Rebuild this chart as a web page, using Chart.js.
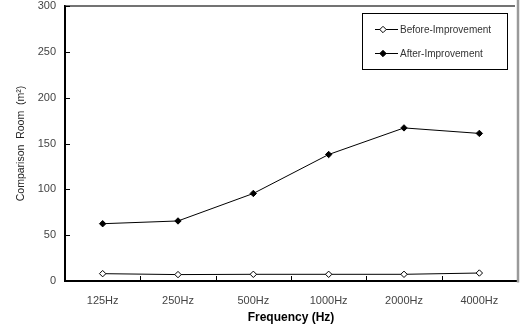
<!DOCTYPE html>
<html><head><meta charset="utf-8">
<script src="https://cdn.jsdelivr.net/npm/chart.js@4/dist/chart.umd.min.js"></script>
<style>html,body{margin:0;padding:0;background:#fff}#wrap{width:524px;height:325px}</style>
</head><body><div id="wrap"><canvas id="c" width="524" height="325"></canvas></div>
<script>
const categories = ['125Hz','250Hz','500Hz','1000Hz','2000Hz','4000Hz'];
const beforeImprovement = [8, 7, 7.3, 7.3, 7.3, 8.7];
const afterImprovement = [62.5, 65.5, 95.5, 138, 167, 161];
const yTicks = [0, 50, 100, 150, 200, 250, 300];
const seriesNames = ['Before-Improvement', 'After-Improvement'];
const xTitle = 'Frequency (Hz)';
const yTitle = 'Comparison  Room  (m²)';

const framePlugin = {
  id: 'frame',
  afterDraw(chart) {
    const ctx = chart.ctx, a = chart.chartArea;
    const xs = chart.scales.x, ys = chart.scales.y;
    ctx.save();
    ctx.strokeStyle = '#444'; ctx.lineWidth = 1.5;
    ctx.beginPath(); ctx.moveTo(a.left, a.top); ctx.lineTo(a.right - 2, a.top); ctx.stroke();
    ctx.strokeStyle = '#9a9a9a'; ctx.lineWidth = 2.5;
    ctx.beginPath(); ctx.moveTo(a.right + 1, 0); ctx.lineTo(a.right + 1, a.bottom + 1.5); ctx.stroke();
    ctx.strokeStyle = '#000'; ctx.lineWidth = 1;
    ys.ticks.forEach((t, i) => {
      if (i === 0) return;
      const y = Math.round(ys.getPixelForTick(i)) + 0.5;
      ctx.beginPath(); ctx.moveTo(a.left, y); ctx.lineTo(a.left + 5, y); ctx.stroke();
    });
    for (let i = 1; i < xs.ticks.length; i++) {
      const x = Math.round((xs.getPixelForTick(i - 1) + xs.getPixelForTick(i)) / 2) + 0.5;
      ctx.beginPath(); ctx.moveTo(x, a.bottom); ctx.lineTo(x, a.bottom - 5); ctx.stroke();
    }
    const bx = 362, by = 13, bw = 145, bh = 56;
    ctx.strokeStyle = '#000'; ctx.lineWidth = 1;
    ctx.strokeRect(bx + 0.5, by + 0.5, bw, bh);
    ctx.font = '10px "Liberation Sans", Arial, sans-serif';
    ctx.textBaseline = 'middle'; ctx.fillStyle = '#333';
    chart.data.datasets.forEach((ds, i) => {
      const y = [29, 53][i];
      ctx.strokeStyle = '#000'; ctx.lineWidth = 1;
      ctx.beginPath(); ctx.moveTo(375, y + 0.5); ctx.lineTo(398, y + 0.5); ctx.stroke();
      ctx.beginPath();
      const cx = 383, r = 3.2;
      ctx.moveTo(cx, y + 0.5 - r); ctx.lineTo(cx + r, y + 0.5); ctx.lineTo(cx, y + 0.5 + r); ctx.lineTo(cx - r, y + 0.5); ctx.closePath();
      ctx.fillStyle = ds.pointBackgroundColor; ctx.fill();
      ctx.strokeStyle = '#000'; ctx.stroke();
      ctx.fillStyle = '#333';
      ctx.fillText(ds.label, 400, y + 1);
    });
    ctx.restore();
  }
};

new Chart(document.getElementById('c'), {
  type: 'line',
  data: {
    labels: categories,
    datasets: [
      { label: seriesNames[0], data: beforeImprovement, borderColor: '#000', borderWidth: 1,
        pointStyle: 'rectRot', pointRadius: 3.2, pointBackgroundColor: '#fff', pointBorderColor: '#000', pointBorderWidth: 1, tension: 0 },
      { label: seriesNames[1], data: afterImprovement, borderColor: '#000', borderWidth: 1,
        pointStyle: 'rectRot', pointRadius: 3.2, pointBackgroundColor: '#000', pointBorderColor: '#000', pointBorderWidth: 1, tension: 0 }
    ]
  },
  options: {
    responsive: false, animation: false, devicePixelRatio: 1,
    layout: { padding: { top: 6, right: 7, left: 0, bottom: 0 } },
    plugins: { legend: { display: false }, tooltip: { enabled: false } },
    scales: {
      x: {
        offset: true,
        grid: { display: true, drawOnChartArea: false, drawTicks: false, offset: true },
        border: { display: true, color: '#000', width: 2 },
        ticks: { color: '#444', padding: 13, font: { family: '"Liberation Sans", Arial, sans-serif', size: 11 }, maxRotation: 0 },
        title: { display: true, text: xTitle, color: '#000', padding: { top: 0, bottom: 0 },
          font: { family: '"Liberation Sans", Arial, sans-serif', size: 12, weight: 'bold' } },
        afterFit(s) { s.height = 44; s.paddingLeft = 0; s.paddingRight = 0; }
      },
      y: {
        min: 0, max: 300,
        afterBuildTicks(s) { s.ticks = yTicks.map(v => ({ value: v })); },
        grid: { display: true, drawOnChartArea: false, drawTicks: false },
        border: { display: true, color: '#000', width: 2 },
        ticks: { color: '#444', padding: 9, font: { family: '"Liberation Sans", Arial, sans-serif', size: 11 } },
        title: { display: true, text: yTitle, color: '#222', padding: { top: 15, bottom: 0 },
          font: { family: '"Liberation Sans", Arial, sans-serif', size: 10.5 } },
        afterFit(s) { s.width = 65; s.paddingTop = 0; s.paddingBottom = 0; }
      }
    }
  },
  plugins: [framePlugin]
});
</script></body></html>
